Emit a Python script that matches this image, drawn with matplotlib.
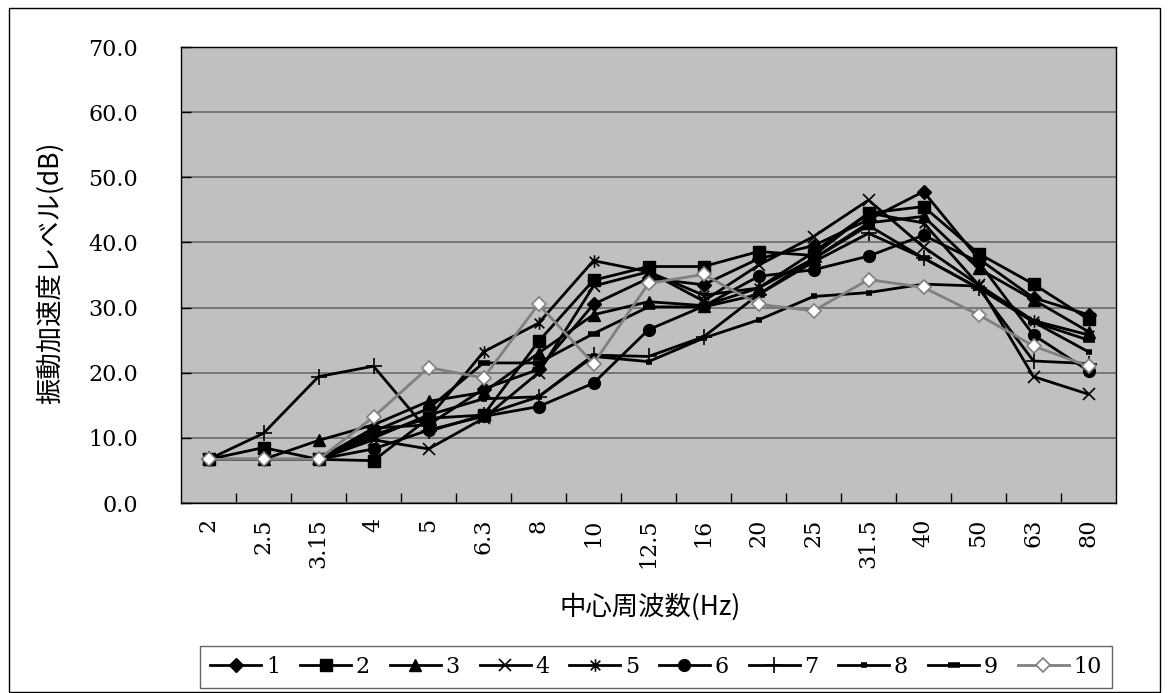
import matplotlib
matplotlib.use("Agg")
import matplotlib.pyplot as plt
from matplotlib.path import Path
from matplotlib.patches import Rectangle

# ---- data ----
freqs = ['2', '2.5', '3.15', '4', '5', '6.3', '8', '10', '12.5', '16',
         '20', '25', '31.5', '40', '50', '63', '80']
series_names = ['1', '2', '3', '4', '5', '6', '7', '8', '9', '10']
s1 = [6.7, 6.7, 6.7, 11.5, 12.0, 17.5, 20.5, 30.5, 34.5, 33.5, 37.5, 39.5, 43.5, 47.8, 37.5, 31.5, 28.9]
s2 = [6.7, 8.5, 6.7, 6.5, 13.0, 13.5, 24.8, 34.2, 36.3, 36.3, 38.6, 38.0, 44.5, 45.5, 38.3, 33.6, 28.2]
s3 = [6.7, 6.7, 9.6, 12.0, 15.6, 17.0, 23.0, 28.9, 30.9, 30.3, 33.0, 37.5, 43.0, 44.0, 36.0, 31.2, 26.3]
s4 = [6.7, 6.7, 6.7, 9.7, 8.3, 13.0, 20.0, 33.3, 35.5, 31.0, 36.5, 40.9, 46.5, 39.3, 33.5, 19.4, 16.7]
s5 = [6.7, 6.7, 6.7, 10.5, 13.0, 23.2, 27.6, 37.2, 35.5, 31.9, 33.0, 38.5, 44.5, 43.0, 33.5, 28.0, 25.8]
s6 = [6.7, 6.7, 6.7, 8.3, 11.2, 13.3, 14.8, 18.4, 26.6, 30.2, 34.8, 35.8, 37.9, 41.1, 37.0, 25.8, 20.3]
s7 = [6.7, 10.7, 19.4, 21.0, 11.0, 13.5, 16.3, 22.7, 22.5, 25.5, 32.0, 37.0, 41.4, 37.6, 33.0, 21.8, 21.4]
s8 = [6.7, 6.7, 6.7, 10.0, 13.5, 16.0, 16.3, 22.5, 21.7, 25.3, 28.1, 31.7, 32.3, 33.6, 33.3, 27.8, 23.2]
s9 = [6.7, 6.7, 6.7, 11.0, 14.5, 21.5, 21.5, 26.0, 30.1, 30.1, 32.0, 37.5, 42.6, 37.6, 33.0, 27.8, 25.0]
s10 = [6.7, 6.7, 6.7, 13.2, 20.8, 19.2, 30.5, 21.4, 33.7, 35.1, 30.5, 29.5, 34.3, 33.1, 28.9, 24.1, 21.0]
all_series = [s1, s2, s3, s4, s5, s6, s7, s8, s9, s10]

# ---- styles ----
asterisk = Path([(-1, -1), (1, 1), (-1, 1), (1, -1), (0, -1.3), (0, 1.3)],
                [Path.MOVETO, Path.LINETO, Path.MOVETO, Path.LINETO, Path.MOVETO, Path.LINETO])
styles = [
    dict(marker='D', ms=7, mfc='black', mec='black', color='black'),
    dict(marker='s', ms=8, mfc='black', mec='black', color='black'),
    dict(marker='^', ms=8.5, mfc='black', mec='black', color='black'),
    dict(marker='x', ms=8, mew=1.2, color='black'),
    dict(marker=asterisk, ms=9, mew=1.2, mfc='black', mec='black', color='black'),
    dict(marker='o', ms=8.5, mfc='black', mec='black', color='black'),
    dict(marker='+', ms=11, mew=1.2, color='black'),
    dict(marker='_', ms=5, mew=4, color='black'),
    dict(marker='_', ms=8, mew=4, color='black'),
    dict(marker='D', ms=7, mfc='white', mec='#808080', mew=1.2, color='#808080'),
]

serif = ['DejaVu Serif']
cjk = ['Noto Sans CJK JP', 'DejaVu Sans']

fig = plt.figure(figsize=(11.68, 6.93), dpi=100)
W, H = 1168, 693
ax = fig.add_axes([181 / W, 1 - 503 / H, (1116 - 181) / W, (503 - 47) / H])
ax.set_facecolor('#C0C0C0')

x = list(range(len(freqs)))
handles = []
for name, ys, st in zip(series_names, all_series, styles):
    h, = ax.plot(x, ys, lw=2.0, label=name, **st)
    handles.append(h)

ax.set_xlim(-0.5, len(freqs) - 0.5)
ax.set_ylim(0, 70)
ax.set_yticks(range(0, 71, 10))
ax.set_yticklabels([f'{v:.1f}' for v in range(0, 71, 10)], fontfamily=serif, fontsize=16)
ax.yaxis.grid(True, color='#707070', lw=1.3)
ax.set_axisbelow(True)
ax.tick_params(axis='y', direction='in', length=7, width=1, pad=31)

ax.set_xticks(x)
ax.set_xticklabels(freqs, rotation=90, fontfamily=serif, fontsize=16, va='top')
ax.set_xticks([i + 0.5 for i in range(len(freqs) - 1)], minor=True)
ax.tick_params(axis='x', which='major', length=0, pad=11)
ax.tick_params(axis='x', which='minor', direction='in', length=7, width=1)

for sp in ax.spines.values():
    sp.set_color('black')
    sp.set_linewidth(1.0)

fig.text(50 / W, 1 - 273 / H, '振動加速度レベル(dB)', rotation=90, ha='center', va='center',
         fontsize=19, family=cjk)
fig.text(650 / W, 1 - 607 / H, '中心周波数(Hz)', ha='center', va='center',
         fontsize=19, family=cjk)

leg = fig.legend(handles=handles, loc='center', bbox_to_anchor=(656 / W, 1 - 667 / H),
                 ncol=10, frameon=True, fancybox=False, edgecolor='#404040',
                 prop={'family': serif, 'size': 16}, handlelength=2.3,
                 handletextpad=0.2, columnspacing=0.9, borderpad=0.45)
leg.get_frame().set_linewidth(1.0)

fig.patches.append(Rectangle((9 / W, 1 / H), (1160 - 9) / W, (684) / H,
                             transform=fig.transFigure, fill=False, ec='black', lw=1))

fig.savefig('out.png', dpi=100)
